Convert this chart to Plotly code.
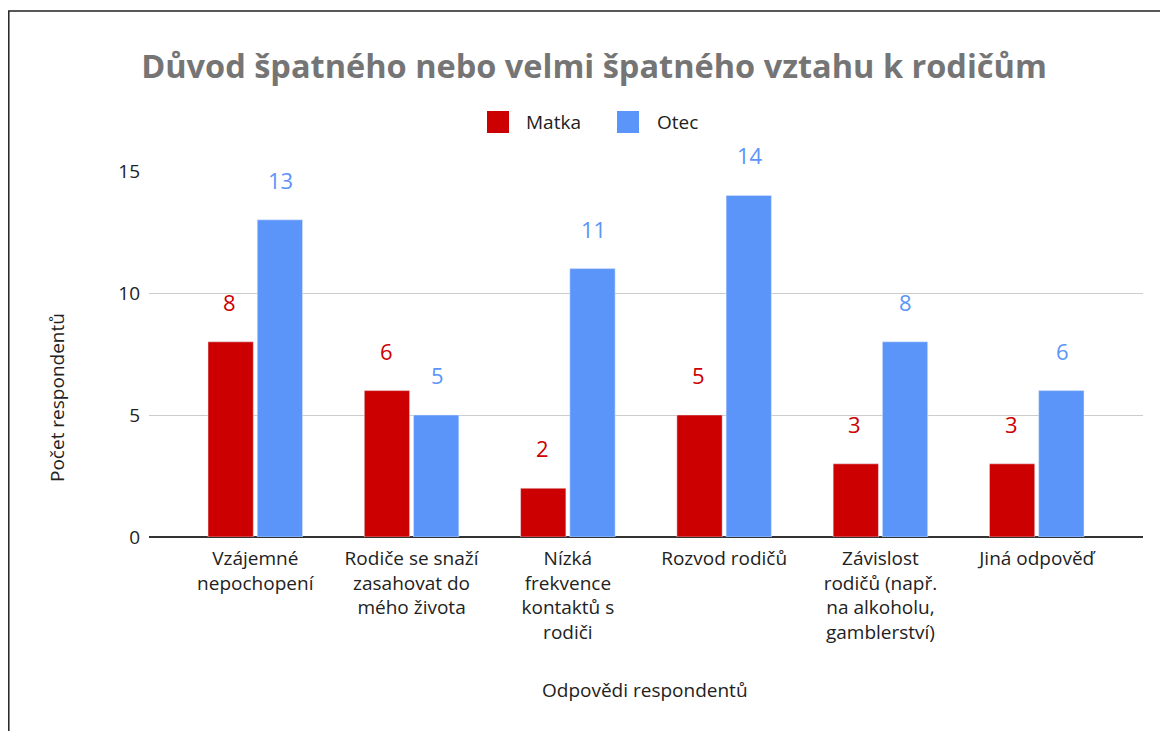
import plotly.graph_objects as go

categories = [
    "Vzájemné<br>nepochopení",
    "Rodiče se snaží<br>zasahovat do<br>mého života",
    "Nízká<br>frekvence<br>kontaktů s<br>rodiči",
    "Rozvod rodičů",
    "Závislost<br>rodičů (např.<br>na alkoholu,<br>gamblerství)",
    "Jiná odpověď",
]
series_names = ["Matka", "Otec"]
matka = [8, 6, 2, 5, 3, 3]
otec = [13, 5, 11, 14, 8, 6]
y_ticks = [0, 5, 10, 15]

RED = "#cc0000"
BLUE = "#5b95f9"
FONT = "Open Sans"
TXT = "#222222"

OFF = 8  # page body margin
W, H = 1168 - OFF, 731 - OFF
L, R, T = 149 - OFF, 25, 171 - OFF
B = H - (537 - OFF)
pw, ph = W - L - R, H - T - B


def px(xr):  # reference pixel x -> paper
    return (xr - OFF - L) / pw


def py(yr):  # reference pixel y -> paper
    return (H - B - (yr - OFF)) / ph


fig = go.Figure()
fig.add_trace(go.Bar(name=series_names[0], x=categories, y=matka, marker_color=RED, showlegend=False))
fig.add_trace(go.Bar(name=series_names[1], x=categories, y=otec, marker_color=BLUE, showlegend=False))

annotations = []
for series, color, shift in ((matka, RED, -25.5), (otec, BLUE, 25.5)):
    for c, v in zip(categories, series):
        annotations.append(dict(x=c, y=v, xref="x", yref="y", text=str(v), showarrow=False,
                                xshift=shift, yshift=23, yanchor="bottom",
                                font=dict(family=FONT, size=22, color=color)))

annotations.append(dict(text="Počet respondentů", xref="paper", yref="paper",
                        x=px(57), y=py(398), xanchor="center", yanchor="middle",
                        textangle=-90, showarrow=False,
                        font=dict(family=FONT, size=19, color=TXT)))
annotations.append(dict(text="Odpovědi respondentů", xref="paper", yref="paper",
                        x=px(645), y=py(690), xanchor="center", yanchor="middle", showarrow=False,
                        font=dict(family=FONT, size=19, color=TXT)))

# custom legend (large square swatches)
shapes = []
for name, color, x0, tx in ((series_names[0], RED, 487, 524), (series_names[1], BLUE, 617, 655)):
    shapes.append(dict(type="rect", xref="paper", yref="paper",
                       x0=px(x0), x1=px(x0 + 22), y0=py(133), y1=py(111),
                       fillcolor=color, line=dict(width=0)))
    annotations.append(dict(text=name, xref="paper", yref="paper", x=px(tx), y=py(122),
                            xanchor="left", yanchor="middle", showarrow=False,
                            font=dict(family=FONT, size=19, color=TXT)))

shapes.append(dict(type="rect", xref="paper", yref="paper",
                   x0=px(8.8), x1=px(1200), y0=py(760), y1=py(11),
                   line=dict(color="#222222", width=1.5), layer="below"))

fig.update_layout(
    width=W, height=H,
    margin=dict(l=L, r=R, t=T, b=B),
    paper_bgcolor="white", plot_bgcolor="white",
    title=dict(text="<b>Důvod špatného nebo velmi špatného vztahu k rodičům</b>",
               x=(594 - OFF) / W, xanchor="center", y=1 - (67 - OFF) / H, yanchor="middle",
               font=dict(family=FONT, size=32.5, color="#757575")),
    barmode="group", bargap=0.37, bargroupgap=0.08,
    showlegend=False,
    xaxis=dict(range=[-0.68, 5.68], showgrid=False, ticks="", tickfont=dict(family=FONT, size=19, color=TXT),
               showline=False, zeroline=False, fixedrange=True, ticklabelstandoff=8),
    yaxis=dict(range=[0, 15], tickvals=y_ticks, showgrid=True, gridcolor="#cccccc", gridwidth=1.3,
               zeroline=True, zerolinecolor="#333333", zerolinewidth=2,
               tickfont=dict(family=FONT, size=19, color=TXT), ticks="", ticklabelstandoff=8),
    annotations=annotations,
    shapes=shapes,
)
fig.write_html("out.html")
